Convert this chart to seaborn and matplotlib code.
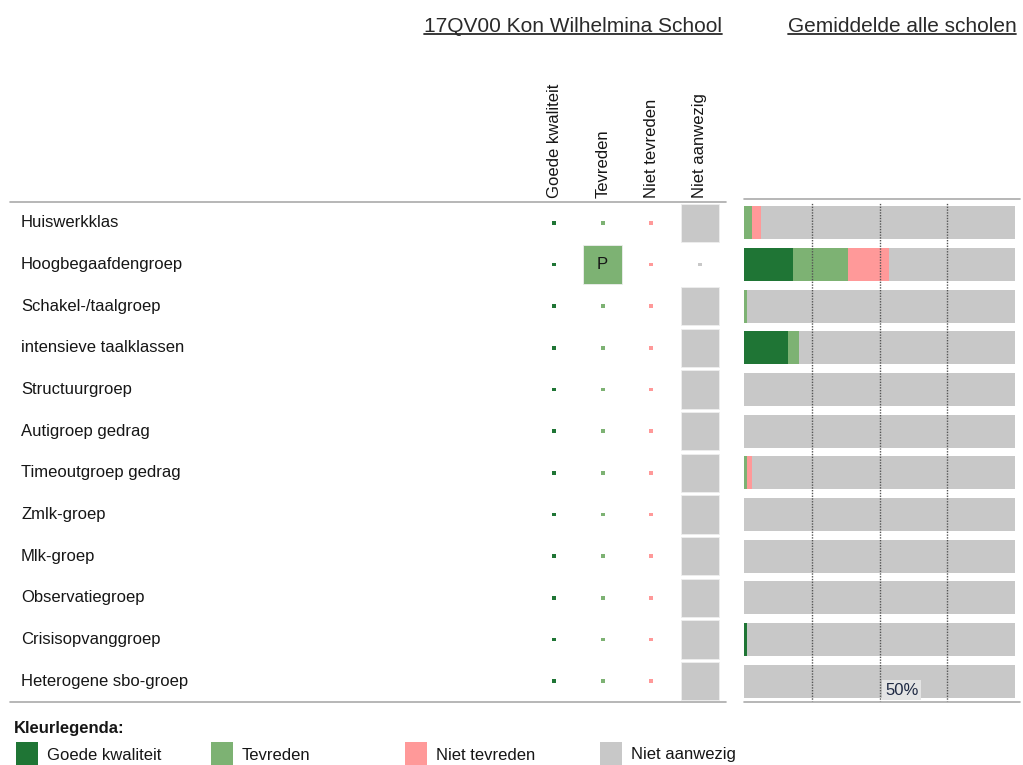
import numpy as np
import pandas as pd
import matplotlib
matplotlib.use("Agg")
import matplotlib.pyplot as plt
import matplotlib.transforms as mtransforms
from matplotlib.patches import Rectangle
from matplotlib.lines import Line2D
import seaborn as sns

# DATA

categorieen = [
    "Huiswerkklas", "Hoogbegaafdengroep", "Schakel-/taalgroep",
    "intensieve taalklassen", "Structuurgroep", "Autigroep gedrag",
    "Timeoutgroep gedrag", "Zmlk-groep", "Mlk-groep", "Observatiegroep",
    "Crisisopvanggroep", "Heterogene sbo-groep",
]
kolommen = ["Goede kwaliteit", "Tevreden", "Niet tevreden", "Niet aanwezig"]

# oordeel van de school per voorziening
school_oordeel = [
    "Niet aanwezig", "Tevreden", "Niet aanwezig", "Niet aanwezig",
    "Niet aanwezig", "Niet aanwezig", "Niet aanwezig", "Niet aanwezig",
    "Niet aanwezig", "Niet aanwezig", "Niet aanwezig", "Niet aanwezig",
]
school_label = ["", "P", "", "", "", "", "", "", "", "", "", ""]

# gemiddelde alle scholen (%)
goede_kwaliteit = [0.0, 18.0, 0.0, 16.3, 0.0, 0.0, 0.0, 0.0, 0.0, 0.0, 1.2, 0.0]
tevreden = [3.1, 20.5, 1.2, 4.0, 0.0, 0.0, 1.2, 0.0, 0.0, 0.0, 0.0, 0.0]
niet_tevreden = [3.1, 14.9, 0.0, 0.0, 0.0, 0.0, 1.8, 0.0, 0.0, 0.0, 0.0, 0.0]

kleuren = {
    "Goede kwaliteit": "#1F7535",
    "Tevreden": "#7DB273",
    "Niet tevreden": "#FF9999",
    "Niet aanwezig": "#C8C8C8",
}

# OPMAAK

sns.set_style("white")
plt.rcParams["font.family"] = ["Liberation Sans", "DejaVu Sans"]

W, H = 1023, 765
fig = plt.figure(figsize=(W / 100, H / 100), dpi=100)


def fx(px):
    return px / W


def fy(py):
    return 1 - py / H


tekst_kleur = "#161616"
lijn_kleur = "#AAAAAA"

# STAAFDIAGRAM: gemiddelde alle scholen

df = pd.DataFrame({
    "categorie": categorieen,
    "goed": goede_kwaliteit,
    "tevreden": tevreden,
    "niet_tevreden": niet_tevreden,
})
df["cum_tev"] = df["goed"] + df["tevreden"]
df["cum_niet"] = df["cum_tev"] + df["niet_tevreden"]
df["totaal"] = 100.0

ax_bar = fig.add_axes([fx(744), fy(702), fx(1015) - fx(744), fy(202) - fy(702)])
for kolom, kleur in [("totaal", kleuren["Niet aanwezig"]),
                     ("cum_niet", kleuren["Niet tevreden"]),
                     ("cum_tev", kleuren["Tevreden"]),
                     ("goed", kleuren["Goede kwaliteit"])]:
    sns.barplot(data=df, y="categorie", x=kolom, color=kleur, saturation=1,
                width=0.79, linewidth=0, orient="h", ax=ax_bar)
ax_bar.set_xlim(0, 100)
ax_bar.set_ylim(len(categorieen) - 0.5, -0.5)
for v in [25, 50, 75]:
    ax_bar.axvline(v, color="#555555", lw=1.0, ls=(0, (1, 1)), zorder=5)
ax_bar.text(52.0, len(categorieen) - 1 + 0.4, "50%", ha="left", va="bottom",
            fontsize=12, color="#1F2A44", zorder=6,
            bbox=dict(boxstyle="square,pad=0.15", fc="#E4E4E4", ec="none"))
ax_bar.set_axis_off()

# MATRIX: oordeel van de school

rijen = []
for i, cat in enumerate(categorieen):
    for j, kol in enumerate(kolommen):
        rijen.append({"rij": i, "kol": j, "kolom": kol,
                      "actief": school_oordeel[i] == kol, "label": school_label[i]})
matrix = pd.DataFrame(rijen)

ax_mat = fig.add_axes([fx(529.75), fy(702), fx(724.25) - fx(529.75), fy(202) - fy(702)])
sns.scatterplot(data=matrix[~matrix["actief"]], x="kol", y="rij", hue="kolom",
                palette=kleuren, marker="s", s=8, linewidth=0, legend=False, ax=ax_mat)
sns.scatterplot(data=matrix[matrix["actief"]], x="kol", y="rij", hue="kolom",
                palette=kleuren, marker="s", s=770, linewidth=0.6, edgecolor="#EEEEEE",
                legend=False, ax=ax_mat)
for _, r in matrix[matrix["actief"] & (matrix["label"] != "")].iterrows():
    ax_mat.text(r["kol"], r["rij"], r["label"], ha="center", va="center",
                fontsize=12, color=tekst_kleur)
ax_mat.set_xlim(-0.5, 3.5)
ax_mat.set_ylim(len(categorieen) - 0.5, -0.5)
ax_mat.set_axis_off()

# kolomkoppen
kop_trans = mtransforms.blended_transform_factory(ax_mat.transData, fig.transFigure)
for j, kol in enumerate(kolommen):
    ax_mat.text(j, fy(198), kol, rotation=90, ha="center", va="bottom",
                fontsize=12, color=tekst_kleur, transform=kop_trans)

# rijlabels
rij_trans = mtransforms.blended_transform_factory(fig.transFigure, ax_mat.transData)
for i, cat in enumerate(categorieen):
    ax_mat.text(fx(21), i, cat, ha="left", va="center", fontsize=12,
                color=tekst_kleur, transform=rij_trans)

# scheidingslijnen
for (x0, x1, y) in [(10, 726, 201.5), (744, 1020, 198.5), (10, 726, 701.5), (744, 1020, 701.5)]:
    fig.add_artist(Line2D([fx(x0), fx(x1)], [fy(y), fy(y)], color=lijn_kleur, lw=1.2))

# titels (onderstreept)
titels = []
for (cx, tekst) in [(573, "17QV00 Kon Wilhelmina School"), (902, "Gemiddelde alle scholen")]:
    titels.append(fig.text(fx(cx), fy(31.5), tekst, ha="center", va="baseline",
                           fontsize=15, color="#2A2A2A"))
fig.canvas.draw()
renderer = fig.canvas.get_renderer()
for t in titels:
    bb = t.get_window_extent(renderer).transformed(fig.transFigure.inverted())
    fig.add_artist(Line2D([bb.x0, bb.x1], [fy(34), fy(34)], color="#2A2A2A", lw=1.3))

# kleurlegenda
fig.text(fx(14), fy(729), "Kleurlegenda:", ha="left", va="center", fontsize=12,
         fontweight="bold", color=tekst_kleur)
for (sx, kol) in zip([16, 211, 405, 600], kolommen):
    fig.add_artist(Rectangle((fx(sx), fy(766)), fx(22), fy(742) - fy(766),
                             transform=fig.transFigure, fc=kleuren[kol], ec="none"))
    fig.text(fx(sx + 31), fy(755), kol, ha="left", va="center", fontsize=12,
             color=tekst_kleur)

fig.savefig("out.png", dpi=100)
